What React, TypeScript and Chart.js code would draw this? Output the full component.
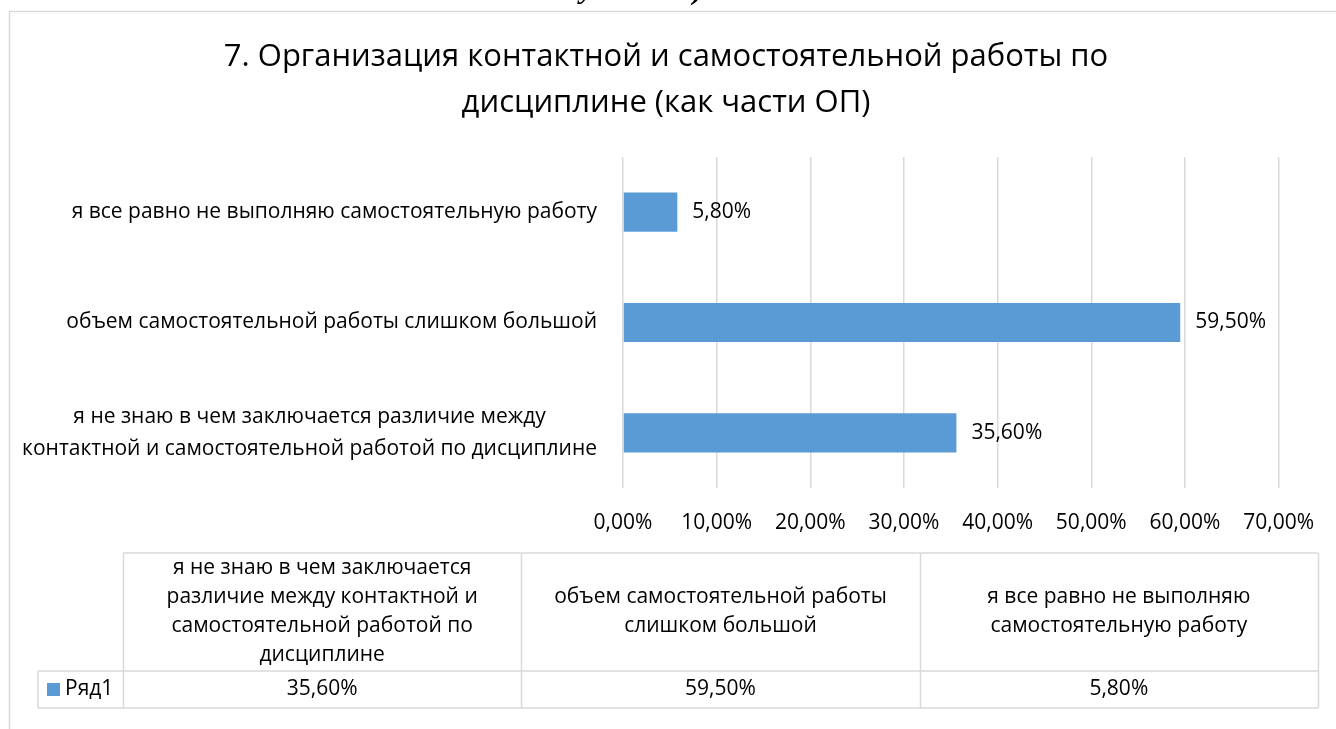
import React, { useEffect, useRef } from 'react';
import { Chart, registerables } from 'chart.js';

Chart.register(...registerables);

// ---- data ----
const titleLines = ['7. Организация контактной и самостоятельной работы по', 'дисциплине (как части ОП)'];
const categories = [
  'я не знаю в чем заключается различие между контактной и самостоятельной работой по дисциплине',
  'объем самостоятельной работы слишком большой',
  'я все равно не выполняю самостоятельную работу',
];
const axisLabelLines = [
  ['я не знаю в чем заключается различие между', 'контактной и самостоятельной работой по дисциплине'],
  ['объем самостоятельной работы слишком большой'],
  ['я все равно не выполняю самостоятельную работу'],
];
const tableHeaderLines = [
  ['я не знаю в чем заключается', 'различие между контактной и', 'самостоятельной работой по', 'дисциплине'],
  ['объем самостоятельной работы', 'слишком большой'],
  ['я все равно не выполняю', 'самостоятельную работу'],
];
const seriesName = 'Ряд1';
const seriesValues = [35.6, 59.5, 5.8];
const xMin = 0;
const xMax = 70;
const xStep = 10;
const topFragment = ['у', ')'];

// ---- styles ----
const FONT = '"Open Sans", "Noto Sans", sans-serif';
const BAR = '#5B9BD5';
const GRID = '#D9D9D9';
const TEXT = '#000000';
const BODY = 21;
const TITLE = 31;

const fmt = (v: number) => Number(v).toFixed(2).replace('.', ',') + '%';

const decor = {
  id: 'decor',
  beforeDraw(chart: any) {
    const ctx = chart.ctx;
    ctx.save();
    ctx.fillStyle = '#ffffff';
    ctx.fillRect(0, 0, chart.width, chart.height);
    ctx.restore();
  },
  afterDraw(chart: any) {
    const ctx = chart.ctx;
    ctx.save();
    // outer frame
    ctx.strokeStyle = GRID;
    ctx.lineWidth = 1.5;
    ctx.strokeRect(9.5, 11.5, 1500, 900);

    // cut-off text fragment at the very top
    ctx.fillStyle = TEXT;
    ctx.font = `italic bold 30px "Liberation Serif", serif`;
    ctx.textAlign = 'center';
    ctx.textBaseline = 'alphabetic';
    ctx.fillText(topFragment[0], 587, -2);
    ctx.fillText(topFragment[1], 698, -1);

    // title
    ctx.font = `${TITLE}px ${FONT}`;
    ctx.textBaseline = 'middle';
    ctx.textAlign = 'center';
    titleLines.forEach((l, i) => ctx.fillText(l, 666, 57 + i * 46));

    // category axis labels: block right-aligned, lines centred inside block
    ctx.font = `${BODY}px ${FONT}`;
    const yScale = chart.scales.y;
    const labelRight = 597;
    const labelLH = 32;
    axisLabelLines.forEach((lines, i) => {
      const y = yScale.getPixelForValue(i);
      const w = Math.max(...lines.map((l) => ctx.measureText(l).width));
      const cx = labelRight - w / 2;
      lines.forEach((l, j) => ctx.fillText(l, cx, y + (j - (lines.length - 1) / 2) * labelLH));
    });

    // data labels
    ctx.textAlign = 'left';
    const meta = chart.getDatasetMeta(0);
    meta.data.forEach((bar: any, i: number) => {
      ctx.fillText(fmt(seriesValues[i]), bar.x + 15, bar.y);
    });

    // data table
    const legLeft = 38;
    const tLeft = 123;
    const tRight = 1318;
    const hTop = 553;
    const rTop = 671;
    const bottom = 708;
    const n = categories.length;
    const colW = (tRight - tLeft) / n;
    ctx.strokeStyle = GRID;
    ctx.lineWidth = 1.5;
    ctx.beginPath();
    ctx.moveTo(tLeft, hTop); ctx.lineTo(tRight, hTop);
    ctx.moveTo(legLeft, rTop); ctx.lineTo(tRight, rTop);
    ctx.moveTo(legLeft, bottom); ctx.lineTo(tRight, bottom);
    ctx.moveTo(legLeft, rTop); ctx.lineTo(legLeft, bottom);
    for (let i = 0; i <= n; i++) {
      const x = Math.round(tLeft + i * colW) + 0.5;
      ctx.moveTo(x, hTop); ctx.lineTo(x, bottom);
    }
    ctx.stroke();

    ctx.fillStyle = TEXT;
    ctx.textAlign = 'center';
    ctx.textBaseline = 'middle';
    const lh = 29;
    for (let i = 0; i < n; i++) {
      const cx = tLeft + (i + 0.5) * colW;
      const lines = tableHeaderLines[i];
      const cy = (hTop + rTop) / 2;
      lines.forEach((l, j) => ctx.fillText(l, cx, cy + (j - (lines.length - 1) / 2) * lh));
      ctx.fillText(fmt(seriesValues[i]), cx, (rTop + bottom) / 2);
    }
    // legend key
    ctx.fillStyle = BAR;
    ctx.fillRect(47, 683, 13, 13);
    ctx.fillStyle = TEXT;
    ctx.textAlign = 'left';
    ctx.fillText(seriesName, 65, (rTop + bottom) / 2);
    ctx.restore();
  },
};

export default function App() {
  const ref = useRef<HTMLCanvasElement | null>(null);
  useEffect(() => {
    if (!ref.current) return;
    const chart = new Chart(ref.current, {
      type: 'bar',
      data: {
        labels: categories,
        datasets: [
          {
            label: seriesName,
            data: seriesValues,
            backgroundColor: BAR,
            borderWidth: 0,
            categoryPercentage: 1,
            barPercentage: 0.355,
          },
        ],
      },
      options: {
        indexAxis: 'y',
        responsive: false,
        animation: false,
        devicePixelRatio: 1,
        layout: { padding: { left: 0, right: 54, top: 157, bottom: 191 } },
        plugins: {
          legend: { display: false },
          title: { display: false },
          tooltip: { enabled: false },
        },
        scales: {
          x: {
            type: 'linear',
            min: xMin,
            max: xMax,
            ticks: {
              stepSize: xStep,
              callback: (v: any) => fmt(v),
              color: TEXT,
              font: { family: FONT, size: BODY },
              padding: 22,
              maxRotation: 0,
              autoSkip: false,
            },
            grid: { color: GRID, lineWidth: 1.5, drawTicks: false },
            border: { display: false },
            afterFit: (s: any) => { s.height = 50; },
          },
          y: {
            type: 'category',
            reverse: true,
            ticks: { display: false },
            grid: { display: false, drawTicks: false },
            border: { display: false },
            afterFit: (s: any) => { s.width = 623; },
          },
        },
      } as any,
      plugins: [decor],
    });
    return () => chart.destroy();
  }, []);
  return (
    <div style={{ position: 'absolute', left: 0, top: 0, width: 1336, height: 729 }}>
      <canvas ref={ref} width={1336} height={729} style={{ display: 'block' }} />
    </div>
  );
}
